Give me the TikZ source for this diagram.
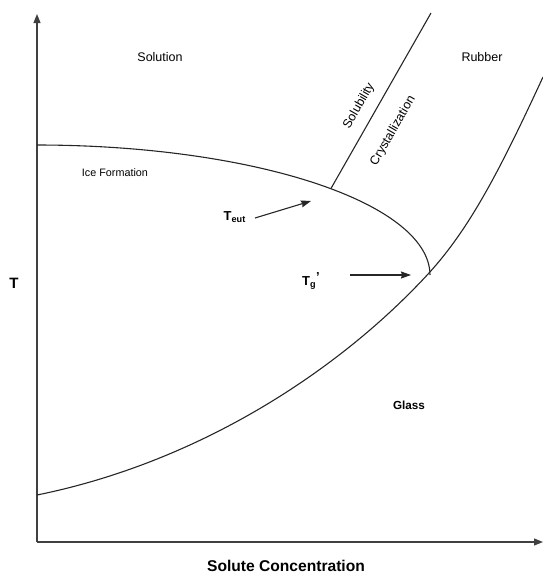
\documentclass[tikz,border=0pt]{standalone}
\usepackage{fontspec}
\setmainfont{Liberation Sans}
\usetikzlibrary{arrows.meta}
\begin{document}
\begin{tikzpicture}[x=1pt,y=-1pt,
  curve/.style={line width=1.1pt,black!85},
  axis/.style={line width=1.1pt,black!75,-{Triangle[length=9pt,width=7pt]}},
  pointer/.style={line width=1.1pt,black!85,-{Stealth[length=10pt,width=7pt,inset=1pt]}},
  lbl/.style={inner sep=0pt,font=\fontsize{12.5}{14}\selectfont},
  blbl/.style={inner sep=0pt,font=\bfseries\fontsize{12}{14}\selectfont}]
\useasboundingbox (0,0) rectangle (543,576);
% axes
\coordinate (o) at (37,542);
\coordinate (ytop) at (37,14);
\coordinate (xend) at (543,542);
\draw[axis] (o) -- (ytop);
\draw[axis] (o) -- (xend);
% ice formation curve (quarter ellipse)
\draw[curve] plot[domain=90:0,samples=60,variable=\t] ({37+393*cos(\t)},{275-130*sin(\t)});
\coordinate (sj) at ({37+393*cos(41.6)},{275-130*sin(41.6)});
\coordinate (stop) at (431,13);
\draw[curve] (sj) -- (stop);
% glass transition curve
\coordinate (g0) at (37,495);
\coordinate (gj) at (429,273);
\coordinate (g1) at (543,77);
\draw[curve] (g0) .. controls (200,462) and (340,370) .. (gj)
                  .. controls (470,228) and (500,170) .. (g1);
% labels
\node[lbl] (solution) at (160,57) {Solution};
\node[lbl] (rubber) at (482,57) {Rubber};
\node[lbl,rotate=60] (solub) at (359,106) {Solubility};
\node[lbl,rotate=60] (cryst) at (393,131) {Crystallization};
\node[lbl,font=\fontsize{10.8}{12}\selectfont] (ice) at (115,173) {Ice Formation};
\node[blbl,font=\bfseries\fontsize{11.7}{14}\selectfont] (glass) at (409,405) {Glass};
\node[blbl,font=\bfseries\fontsize{15}{17}\selectfont] (tlab) at (14,283) {T};
\node[blbl,font=\bfseries\fontsize{15.6}{18}\selectfont] (xlab) at (286,566) {Solute Concentration};
\node[blbl,font=\bfseries\fontsize{13}{15}\selectfont,anchor=east] (teut) at (246,217) {T\textsubscript{eut}};
\node[blbl,font=\bfseries\fontsize{13}{15}\selectfont,anchor=west] (tg) at (302,281) {T\textsubscript{g}\raisebox{0.6ex}{'}};
% pointers
\coordinate (a1s) at (255,218);
\coordinate (a1e) at (311,201);
\coordinate (a2s) at (350,275);
\coordinate (a2e) at (411,275);
\draw[pointer] (a1s) -- (a1e);
\draw[pointer] (a2s) -- (a2e);
\end{tikzpicture}
\end{document}
